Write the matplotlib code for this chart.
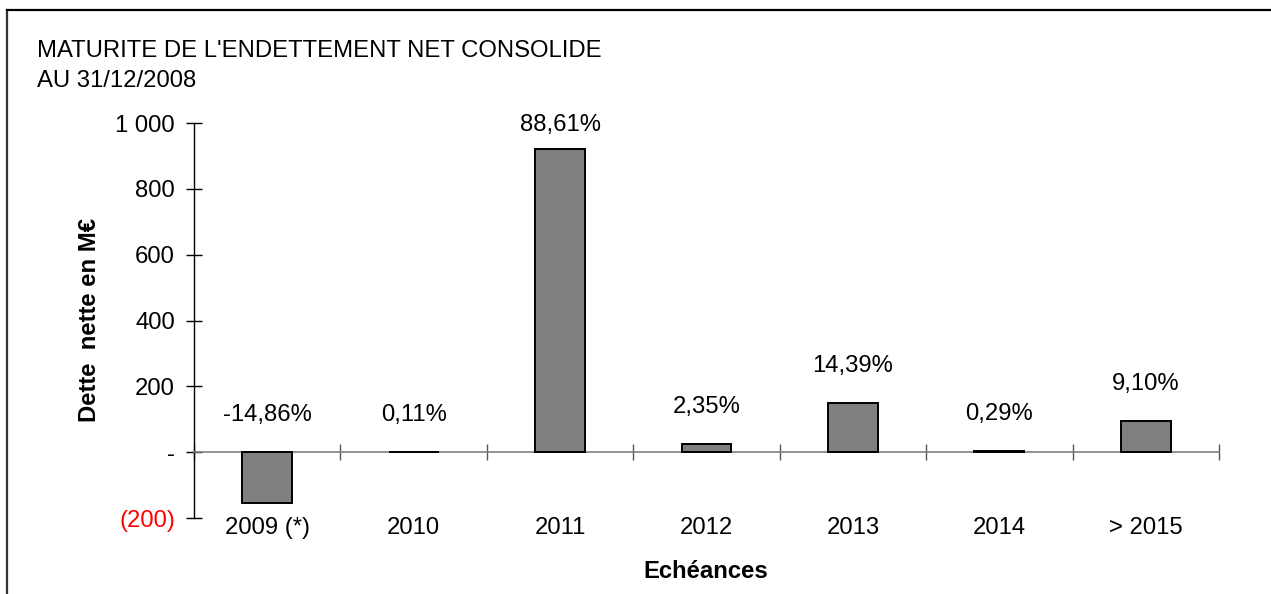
import numpy as np
import matplotlib.pyplot as plt
from matplotlib.lines import Line2D

plt.rcParams['font.family'] = ['Liberation Sans', 'DejaVu Sans']
plt.rcParams['font.size'] = 17.2

# données (M€)
echeances = ['2009 (*)', '2010', '2011', '2012', '2013', '2014', '> 2015']
dette = [-154.5, 1.1, 921.5, 24.4, 149.7, 3.0, 94.6]
parts = ['-14,86%', '0,11%', '88,61%', '2,35%', '14,39%', '0,29%', '9,10%']
yticks = [-200, 0, 200, 400, 600, 800, 1000]
ytick_labels = ['(200)', '-', '200', '400', '600', '800', '1 000']

fig = plt.figure(figsize=(12.71, 5.94), dpi=100)
ax = fig.add_axes([194 / 1271, 1 - 518 / 594, 1025 / 1271, 395 / 594])

x = np.arange(len(echeances))
ax.bar(x, dette, width=0.34, color='#808080', edgecolor='black', linewidth=1.4, zorder=3)

# étiquettes de pourcentage au-dessus des barres
for i in range(len(x)):
    y_lab = min(max(dette[i], 0) + 113, 995)
    ax.text(x[i], y_lab, parts[i], ha='center', va='center')

ax.set_xlim(-0.5, len(x) - 0.5)
ax.set_ylim(-200, 1000)

# axes
for s in ['top', 'right']:
    ax.spines[s].set_visible(False)
ax.spines['bottom'].set_position(('data', 0))
ax.spines['bottom'].set_color('#808080')
ax.spines['bottom'].set_linewidth(1.2)
ax.spines['left'].set_linewidth(1.0)

ax.set_yticks(yticks)
ax.set_yticklabels(ytick_labels)
ax.get_yticklabels()[0].set_color('red')
ax.tick_params(axis='y', direction='inout', length=11.5, width=1.0, pad=8)

ax.set_xticks(x)
ax.set_xticklabels(echeances)
ax.set_xticks(np.arange(len(x) + 1) - 0.5, minor=True)
ax.tick_params(axis='x', which='major', length=0, pad=47)
ax.tick_params(axis='x', which='minor', direction='inout', length=11, width=1.0, color='#555555')

fig.text(89 / 1271, 1 - 320 / 594, 'Dette  nette en M€', rotation=90,
         ha='center', va='center', fontweight='bold')
fig.text(706 / 1271, 1 - 572 / 594, 'Echéances', ha='center', va='center', fontweight='bold')

fig.text(37 / 1271, 1 - 51 / 594, "MATURITE DE L'ENDETTEMENT NET CONSOLIDE", ha='left', va='center')
fig.text(37 / 1271, 1 - 81 / 594, 'AU 31/12/2008', ha='left', va='center')

# cadre (seulement bords gauche et haut visibles)
fig.add_artist(Line2D([7 / 1271, 7 / 1271], [0, 1 - 10 / 594], color='#333333', lw=1.6))
fig.add_artist(Line2D([7 / 1271, 1], [1 - 10 / 594, 1 - 10 / 594], color='black', lw=1.6))

fig.savefig('out.png', dpi=100)
